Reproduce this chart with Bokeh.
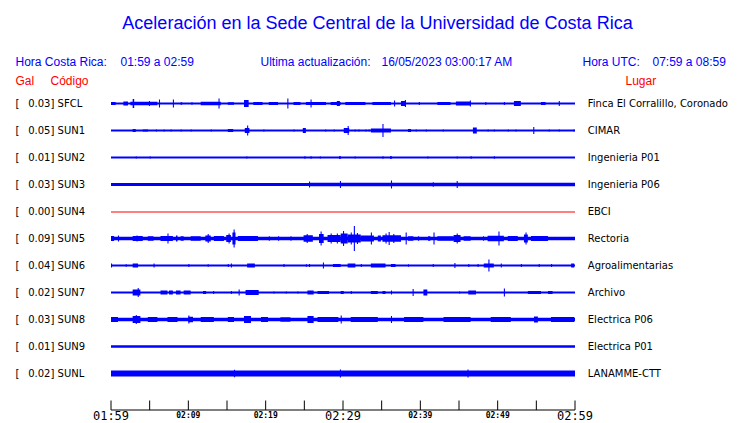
from bokeh.plotting import figure
from bokeh.models import Range1d
from bokeh.core.properties import value
from bokeh.embed import file_html
from bokeh.resources import INLINE

# ---------------- data ----------------
TITLE = "Aceleración en la Sede Central de la Universidad de Costa Rica"
hora_cr = "01:59 a 02:59"
hora_utc = "07:59 a 08:59"
ultima = "16/05/2023 03:00:17 AM"

codes = ["SFCL", "SUN1", "SUN2", "SUN3", "SUN4", "SUN5", "SUN6", "SUN7", "SUN8", "SUN9", "SUNL"]
places = ["Finca El Corralillo, Coronado", "CIMAR", "Ingenieria P01", "Ingenieria P06", "EBCI",
          "Rectoria", "Agroalimentarias", "Archivo", "Electrica P06", "Electrica P01", "LANAMME-CTT"]
gal = [0.03, 0.05, 0.01, 0.03, 0.00, 0.09, 0.04, 0.02, 0.03, 0.01, 0.02]
has_signal = [True, True, True, True, False, True, True, True, True, True, True]

# background noise half-height of each trace (px)
noise_amp = [1.0, 1.0, 1.0, 1.4, 0.5, 1.8, 1.0, 1.0, 1.8, 1.3, 3.0]

# bursts: (start minute, end minute, half-height px); minute 0 = 01:59
bursts_SFCL = [(0.0, 0.6, 1.5), (1.6, 2.2, 2.0), (2.5, 6.0, 1.8), (2.8, 3.0, 4.5), (4.9, 5.0, 2.5),
               (6.2, 6.3, 4.0), (8.0, 8.1, 4.0), (9.0, 9.2, 1.2), (10.4, 10.5, 1.2), (11.6, 14.2, 1.8),
               (13.9, 14.0, 5.0), (15.1, 15.9, 1.2), (17.2, 17.8, 3.5), (18.4, 19.6, 1.5), (20.4, 21.6, 1.5),
               (22.8, 22.9, 5.0), (23.6, 24.5, 1.5), (25.2, 27.8, 1.5), (25.8, 25.9, 4.0), (28.4, 29.7, 1.5),
               (29.2, 29.6, 2.5), (30.3, 32.9, 1.5), (33.8, 36.2, 1.5), (36.6, 36.7, 3.0), (37.5, 38.1, 2.5),
               (38.0, 38.1, 3.5), (39.8, 39.9, 1.5), (42.2, 43.9, 1.5), (44.6, 46.5, 2.0), (46.4, 46.5, 3.0),
               (48.4, 48.5, 1.5), (50.8, 50.9, 1.5), (52.1, 53.0, 2.5), (55.6, 56.2, 1.5), (57.9, 58.0, 2.5)]
bursts_SUN1 = [(2.8, 3.2, 1.5), (4.1, 4.8, 1.0), (5.8, 5.9, 1.0), (6.8, 6.9, 1.0), (7.7, 7.8, 1.0),
               (9.0, 9.1, 1.0), (10.3, 10.4, 1.0), (12.9, 13.0, 1.0), (15.1, 15.8, 1.5), (17.3, 17.9, 2.5),
               (17.6, 17.7, 5.0), (19.7, 19.8, 1.0), (23.6, 23.7, 1.0), (24.8, 25.2, 2.5), (27.7, 27.8, 1.0),
               (28.8, 28.9, 1.0), (30.1, 30.8, 2.5), (30.6, 30.7, 4.5), (31.5, 31.6, 1.0), (32.0, 32.1, 1.0),
               (32.9, 33.0, 1.0), (33.3, 33.4, 1.0), (33.6, 36.2, 2.0), (35.1, 35.2, 6.5), (38.4, 38.8, 1.5),
               (39.4, 39.5, 1.0), (40.7, 40.8, 1.0), (42.9, 43.0, 1.0), (46.8, 47.3, 3.0), (48.7, 48.8, 1.0),
               (49.5, 49.6, 1.0), (51.3, 51.4, 1.0), (52.3, 52.4, 1.0), (54.6, 54.7, 3.5), (56.6, 56.7, 1.0),
               (57.9, 58.0, 1.0), (59.8, 59.9, 1.0)]
bursts_SUN2 = [(3.2, 3.3, 1.0), (5.0, 5.1, 1.0), (17.5, 17.6, 1.0), (25.0, 25.1, 1.2), (25.8, 25.9, 1.2),
               (27.0, 27.1, 1.0), (29.5, 29.7, 1.5), (31.5, 31.6, 1.0), (35.1, 35.2, 1.2), (36.1, 36.3, 1.5),
               (40.9, 41.0, 1.0), (44.7, 44.8, 1.0), (46.5, 46.6, 1.2), (49.5, 49.6, 1.2)]
bursts_SUN3 = [(25.6, 25.7, 3.0), (25.7, 60.0, 1.8), (29.6, 29.7, 3.5), (36.2, 36.3, 4.0),
               (41.6, 41.7, 2.2), (44.7, 44.8, 3.5)]
bursts_SUN4 = []
bursts_SUN5 = [(0.0, 0.4, 2.5), (0.9, 1.0, 3.0), (2.8, 4.1, 2.5), (3.3, 3.4, 3.0), (4.75, 5.5, 2.2),
               (6.4, 8.0, 2.5), (7.3, 7.4, 5.0), (8.4, 8.6, 3.0), (9.0, 9.4, 2.2), (10.3, 11.6, 2.2),
               (12.2, 12.9, 3.0), (12.5, 12.6, 4.5), (13.3, 14.6, 2.5), (14.9, 15.5, 3.5), (15.2, 15.3, 5.0),
               (15.7, 16.1, 6.0), (15.85, 15.95, 9.0), (16.4, 19.0, 2.5), (20.4, 20.5, 2.2), (21.6, 21.7, 2.2),
               (23.2, 23.3, 2.2), (24.9, 26.1, 3.2), (25.3, 25.4, 4.5), (26.9, 27.5, 4.5), (27.1, 27.2, 7.0),
               (28.0, 29.7, 3.5), (28.4, 28.5, 5.0), (29.2, 29.3, 5.0), (29.7, 30.6, 5.0), (30.0, 30.1, 7.5),
               (30.6, 32.3, 4.0), (31.0, 31.1, 6.0), (31.4, 31.5, 12.5), (31.8, 31.9, 5.5), (32.3, 34.0, 3.0),
               (33.6, 33.7, 6.0), (34.5, 34.9, 3.0), (35.1, 37.5, 3.2), (35.5, 35.6, 5.0), (35.9, 36.0, 6.5),
               (36.5, 36.6, 4.5), (38.1, 38.2, 6.0), (38.4, 39.1, 2.2), (39.7, 39.8, 2.2), (41.0, 41.3, 2.2),
               (41.7, 41.8, 6.0), (42.2, 44.3, 2.2), (44.3, 45.2, 3.5), (44.7, 44.8, 5.0), (45.6, 46.5, 2.2),
               (48.1, 48.2, 2.2), (48.7, 50.8, 2.8), (50.1, 50.2, 7.0), (51.3, 52.6, 2.5), (53.4, 53.9, 4.0),
               (53.6, 53.7, 6.0), (54.3, 56.5, 2.5)]
bursts_SUN6 = [(0.0, 0.1, 2.0), (1.9, 2.0, 1.2), (2.8, 3.5, 2.0), (5.5, 5.6, 2.0), (10.0, 10.1, 1.5),
               (12.5, 12.6, 1.2), (15.1, 15.2, 1.5), (15.5, 15.6, 2.0), (17.6, 18.6, 2.0), (22.3, 22.4, 1.5),
               (25.2, 25.3, 1.2), (25.6, 25.7, 1.5), (27.4, 27.5, 3.0), (28.7, 29.7, 1.5), (30.6, 31.6, 2.0),
               (32.3, 32.4, 1.5), (33.6, 35.5, 2.0), (36.2, 36.8, 1.5), (38.4, 38.5, 1.2), (41.6, 41.7, 1.5),
               (44.4, 44.5, 2.5), (46.2, 46.3, 1.5), (47.4, 47.5, 1.5), (48.2, 49.5, 2.0), (48.8, 48.9, 6.0),
               (50.4, 50.5, 2.0), (53.0, 53.1, 1.5), (55.3, 55.4, 1.5), (56.9, 57.0, 1.5), (59.5, 59.9, 2.0)]
bursts_SUN7 = [(2.8, 3.8, 3.0), (3.45, 3.55, 4.5), (6.4, 7.3, 2.0), (7.5, 8.0, 2.0), (8.4, 9.0, 2.0),
               (9.4, 10.3, 2.0), (11.9, 12.3, 1.5), (13.2, 13.3, 1.5), (15.5, 15.6, 1.5), (16.5, 16.6, 3.0),
               (17.4, 19.1, 2.5), (21.0, 21.1, 1.0), (22.6, 22.7, 1.0), (24.1, 24.2, 1.0), (25.4, 26.2, 2.0),
               (26.7, 28.2, 1.5), (29.7, 30.1, 1.5), (31.0, 31.1, 1.5), (33.6, 34.5, 1.5), (35.1, 35.5, 1.5),
               (36.2, 36.3, 2.0), (39.0, 39.1, 3.5), (40.4, 40.9, 3.0), (45.0, 45.1, 1.0), (46.2, 47.2, 2.0),
               (50.8, 50.9, 4.0), (53.9, 55.6, 1.5), (56.5, 57.1, 1.5)]
bursts_SUN8 = [(0.0, 0.9, 2.5), (2.8, 3.8, 3.5), (3.2, 3.3, 4.5), (4.75, 6.0, 2.5), (7.3, 8.6, 2.5),
               (10.0, 10.6, 2.8), (10.0, 10.1, 4.0), (11.6, 13.3, 2.5), (15.1, 15.9, 2.5), (17.2, 18.1, 3.5),
               (19.4, 20.3, 2.5), (21.9, 23.2, 2.2), (25.4, 26.2, 3.5), (26.7, 29.4, 2.5), (29.7, 29.8, 4.0),
               (31.0, 34.5, 2.5), (36.2, 36.3, 3.5), (37.9, 40.4, 2.5), (43.0, 46.5, 2.5), (49.1, 51.7, 2.5),
               (54.7, 55.2, 3.0), (56.9, 59.9, 2.5)]
bursts_SUN9 = []
bursts_SUNL = [(15.9, 16.0, 3.8), (29.6, 29.7, 4.0), (46.1, 46.2, 4.0)]
bursts = [bursts_SFCL, bursts_SUN1, bursts_SUN2, bursts_SUN3, bursts_SUN4, bursts_SUN5,
          bursts_SUN6, bursts_SUN7, bursts_SUN8, bursts_SUN9, bursts_SUNL]

tick_minutes = [0, 5, 10, 15, 20, 25, 30, 35, 40, 45, 50, 55, 60]
big_tick_minutes = [0, 30, 60]
big_tick_labels = ["01:59", "02:29", "02:59"]
small_tick_minutes = [10, 20, 40, 50]
small_tick_labels = ["02:09", "02:19", "02:39", "02:49"]

# ---------------- layout ----------------
W, H = 740, 423
LEFT_PX, RIGHT_PX = 110.5, 574.5          # pixel x of minute 0 and minute 60
ppm = (RIGHT_PX - LEFT_PX) / 60.0
ROW0, ROW_STEP = 103.0, 27.0
BLUE, RED = "#0000FF", "#FF0000"

p = figure(width=W, height=H,
           x_range=Range1d(-LEFT_PX / ppm, (W - LEFT_PX) / ppm),
           y_range=Range1d(H, 0),
           output_backend="svg", toolbar_location=None,
           x_axis_location=None, y_axis_location=None, min_border=0)
p.extra_x_ranges = {"px": Range1d(0, W)}
p.grid.visible = False
p.outline_line_color = None
p.background_fill_color = "white"
p.border_fill_color = "white"

for i, code in enumerate(codes):
    yc = ROW0 + ROW_STEP * i
    col = BLUE if has_signal[i] else RED
    a = noise_amp[i]
    if has_signal[i]:
        p.quad(left=[0], right=[60], top=[yc - a], bottom=[yc + a], color=col, line_width=0)
    else:
        p.quad(left=[0], right=[60], top=[yc], bottom=[yc + 2 * a], color=col, line_width=0)
    ev = bursts[i]
    if ev:
        lefts = [e[0] for e in ev]
        rights = [max(e[1], e[0] + 0.14) for e in ev]
        tops = [yc - e[2] for e in ev]
        bots = [yc + e[2] for e in ev]
        p.quad(left=lefts, right=rights, top=tops, bottom=bots, color=col, line_width=0)

# left / right labels
row_y = [ROW0 + 0.3 + ROW_STEP * i for i in range(len(codes))]
lab_font = value("DejaVu Sans")
p.text(x=[15] * len(codes), y=row_y, text=["["] * len(codes), x_range_name="px",
       text_font=lab_font, text_font_size="10px", text_baseline="middle", text_color="black")
p.text(x=[27.7] * len(codes), y=row_y, text=[f"{g:.2f}] {c}" for g, c in zip(gal, codes)],
       x_range_name="px", text_font=lab_font, text_font_size="10px", text_baseline="middle",
       text_color="black")
p.text(x=[587.3] * len(codes), y=row_y, text=places, x_range_name="px",
       text_font=lab_font, text_font_size="10px", text_baseline="middle", text_color="black")

# title and headers
hdr_font = value("Liberation Sans")
p.text(x=[377], y=[22], text=[TITLE], x_range_name="px", text_font=hdr_font,
       text_font_size="18px", text_align="center", text_baseline="middle", text_color=BLUE)
p.text(x=[15, 120, 260, 381, 582, 652], y=[61] * 6,
       text=["Hora Costa Rica:", hora_cr, "Ultima actualización:", ultima, "Hora UTC:", hora_utc],
       x_range_name="px", text_font=hdr_font, text_font_size="12px", text_baseline="middle",
       text_color=BLUE)
p.text(x=[15, 50, 625], y=[80.5] * 3, text=["Gal", "Código", "Lugar"], x_range_name="px",
       text_font=hdr_font, text_font_size="12px", text_baseline="middle", text_color=RED)

# time axis
p.segment(x0=[0], y0=[409.5], x1=[60], y1=[409.5], color="black", line_width=1)
p.segment(x0=tick_minutes, y0=[400] * len(tick_minutes), x1=tick_minutes,
          y1=[409.5] * len(tick_minutes), color="black", line_width=1)
p.text(x=big_tick_minutes, y=[415.8] * 3, text=big_tick_labels, text_font=value("DejaVu Sans Mono"),
       text_font_size="12px", text_align="center", text_baseline="middle", text_color="black")
p.text(x=small_tick_minutes, y=[415.3] * 4, text=small_tick_labels, text_font=value("DejaVu Sans Mono"),
       text_font_size="8px", text_font_style="bold", text_align="center", text_baseline="middle",
       text_color="black")

open("out.html", "w").write(file_html(p, INLINE))
